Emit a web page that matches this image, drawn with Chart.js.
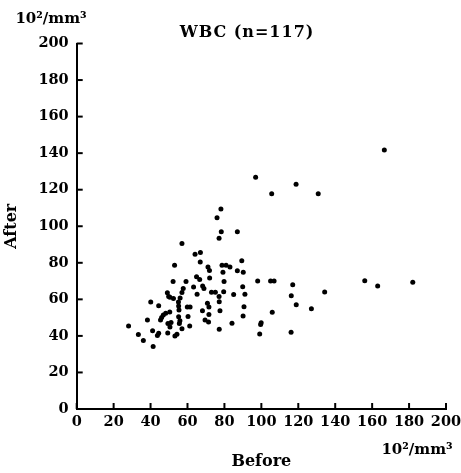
<!DOCTYPE html>
<html>
<head>
<meta charset="utf-8">
<script src="https://cdn.jsdelivr.net/npm/chart.js@4/dist/chart.umd.min.js"></script>
<style>
  html, body { margin: 0; padding: 0; background: #fff; }
  #wrap { width: 461px; height: 473px; }
</style>
</head>
<body>
<div id="wrap"><canvas id="c" width="461" height="473"></canvas></div>
<script>
const chartTitle = 'WBC (n=117)';
const xAxisTitle = 'Before';
const yAxisTitle = 'After';
const unitLabel = '10²/mm³';
const xTicks = [0, 20, 40, 60, 80, 100, 120, 140, 160, 180, 200];
const yTicks = [0, 20, 40, 60, 80, 100, 120, 140, 160, 180, 200];

const beforeValues = [166.6, 96.9, 118.8, 105.6, 130.8, 78.1, 76.0, 78.3, 87.0, 77.1,
  57.0, 64.1, 67.0, 66.9, 89.4, 53.0, 71.1, 78.7, 80.9, 83.0,
  71.9, 79.2, 87.0, 90.2, 64.9, 66.6, 72.0, 52.2, 59.2, 79.8,
  98.0, 105.0, 106.9, 117.0, 156.0, 163.0, 182.0, 63.3, 68.2, 68.9,
  89.9, 57.7, 49.1, 57.0, 65.2, 73.0, 75.1, 79.6, 134.3, 85.0,
  91.1, 116.2, 49.8, 50.5, 52.4, 56.0, 77.1, 40.1, 44.4, 55.1,
  55.2, 55.4, 70.8, 71.6, 77.2, 59.9, 61.4, 118.9, 90.6, 127.1,
  77.6, 68.1, 50.4, 48.2, 105.9, 46.9, 46.0, 45.4, 55.2, 60.3,
  71.6, 90.1, 38.3, 69.5, 71.4, 55.9, 51.1, 49.4, 55.6, 61.2,
  84.1, 99.9, 99.6, 28.1, 50.5, 57.0, 77.2, 41.1, 44.4, 43.7,
  49.3, 53.2, 54.3, 33.4, 36.1, 41.4, 99.1, 116.1];

const afterValues = [141.7, 126.8, 123.0, 117.8, 117.8, 109.4, 104.7, 97.0, 97.0, 93.4,
  90.6, 84.7, 85.7, 80.4, 81.1, 78.7, 77.7, 78.7, 78.7, 77.7,
  75.8, 74.8, 75.7, 74.8, 72.4, 70.9, 71.7, 69.7, 69.8, 69.7,
  70.0, 70.0, 70.0, 68.0, 70.2, 67.3, 69.3, 66.8, 67.3, 65.9,
  66.9, 66.0, 63.6, 63.7, 62.8, 63.9, 63.9, 64.2, 64.0, 62.7,
  62.8, 62.0, 61.5, 61.1, 60.5, 60.7, 61.6, 58.6, 56.5, 58.6,
  56.4, 54.2, 57.8, 55.8, 58.7, 55.8, 55.8, 57.1, 56.0, 54.9,
  53.8, 53.8, 53.1, 52.4, 52.9, 51.4, 50.1, 48.7, 50.5, 50.6,
  51.7, 50.9, 48.7, 48.7, 47.6, 48.3, 47.4, 46.8, 46.8, 45.4,
  46.9, 47.2, 46.3, 45.4, 44.9, 43.9, 43.7, 42.8, 41.5, 40.2,
  41.6, 39.9, 40.9, 40.7, 37.5, 34.2, 41.0, 42.0];

const points = beforeValues.map((x, i) => ({ x: x, y: afterValues[i] }));

const SERIF = '"DejaVu Serif", "Liberation Serif", serif';

const decorations = {
  id: 'decorations',
  afterDraw(chart) {
    const ctx = chart.ctx;
    const xs = chart.scales.x, ys = chart.scales.y;
    const area = chart.chartArea;
    ctx.save();
    ctx.strokeStyle = '#000';
    ctx.lineWidth = 2;
    // inward tick marks
    xTicks.forEach(v => {
      const px = xs.getPixelForValue(v);
      ctx.beginPath(); ctx.moveTo(px, area.bottom); ctx.lineTo(px, area.bottom - 6); ctx.stroke();
    });
    yTicks.forEach(v => {
      const py = ys.getPixelForValue(v);
      ctx.beginPath(); ctx.moveTo(area.left, py); ctx.lineTo(area.left + 6, py); ctx.stroke();
    });
    ctx.fillStyle = '#000';
    ctx.textBaseline = 'middle';
    // title
    ctx.font = 'bold 16px ' + SERIF;
    ctx.textAlign = 'center';
    try { ctx.letterSpacing = '1px'; } catch (e) {}
    ctx.fillText(chartTitle, 247, 33);
    try { ctx.letterSpacing = '0px'; } catch (e) {}
    // unit labels
    ctx.font = 'bold 15px ' + SERIF;
    ctx.fillText(unitLabel, 51, 19);
    ctx.fillText(unitLabel, 417, 450);
    ctx.restore();
  }
};

new Chart(document.getElementById('c'), {
  type: 'scatter',
  data: {
    datasets: [{
      data: points,
      backgroundColor: '#000',
      borderColor: '#000',
      pointRadius: 2.5,
      pointBorderWidth: 0
    }]
  },
  plugins: [decorations],
  options: {
    responsive: false,
    animation: false,
    devicePixelRatio: 1,
    layout: { padding: { left: 0, right: 15, top: 43.5, bottom: 0 } },
    plugins: { legend: { display: false }, tooltip: { enabled: false }, title: { display: false } },
    scales: {
      x: {
        type: 'linear', min: 0, max: 200,
        afterBuildTicks: s => { s.ticks = xTicks.map(v => ({ value: v })); },
        afterFit: s => { s.height = 64; s.paddingLeft = 0; s.paddingRight = 0; },
        border: { display: true, color: '#000', width: 2 },
        grid: { display: true, drawOnChartArea: false, drawTicks: false, color: 'rgba(0,0,0,0)' },
        ticks: { color: '#000', padding: 5, maxRotation: 0, autoSkip: false,
                 font: { family: SERIF, size: 14.5, weight: 'bold' } },
        title: { display: true, text: xAxisTitle, color: '#000', padding: { top: 0, bottom: 2 },
                 font: { family: SERIF, size: 16, weight: 'bold' } }
      },
      y: {
        type: 'linear', min: 0, max: 200,
        afterBuildTicks: s => { s.ticks = yTicks.map(v => ({ value: v })); },
        afterFit: s => { s.width = 76.7; s.paddingTop = 0; s.paddingBottom = 0; },
        border: { display: true, color: '#000', width: 2 },
        grid: { display: true, drawOnChartArea: false, drawTicks: false, color: 'rgba(0,0,0,0)' },
        ticks: { color: '#000', padding: 8, autoSkip: false,
                 font: { family: SERIF, size: 14.5, weight: 'bold' } },
        title: { display: true, text: yAxisTitle, color: '#000', padding: { top: 2, bottom: 0 },
                 font: { family: SERIF, size: 16, weight: 'bold' } }
      }
    }
  }
});
</script>
</body>
</html>
